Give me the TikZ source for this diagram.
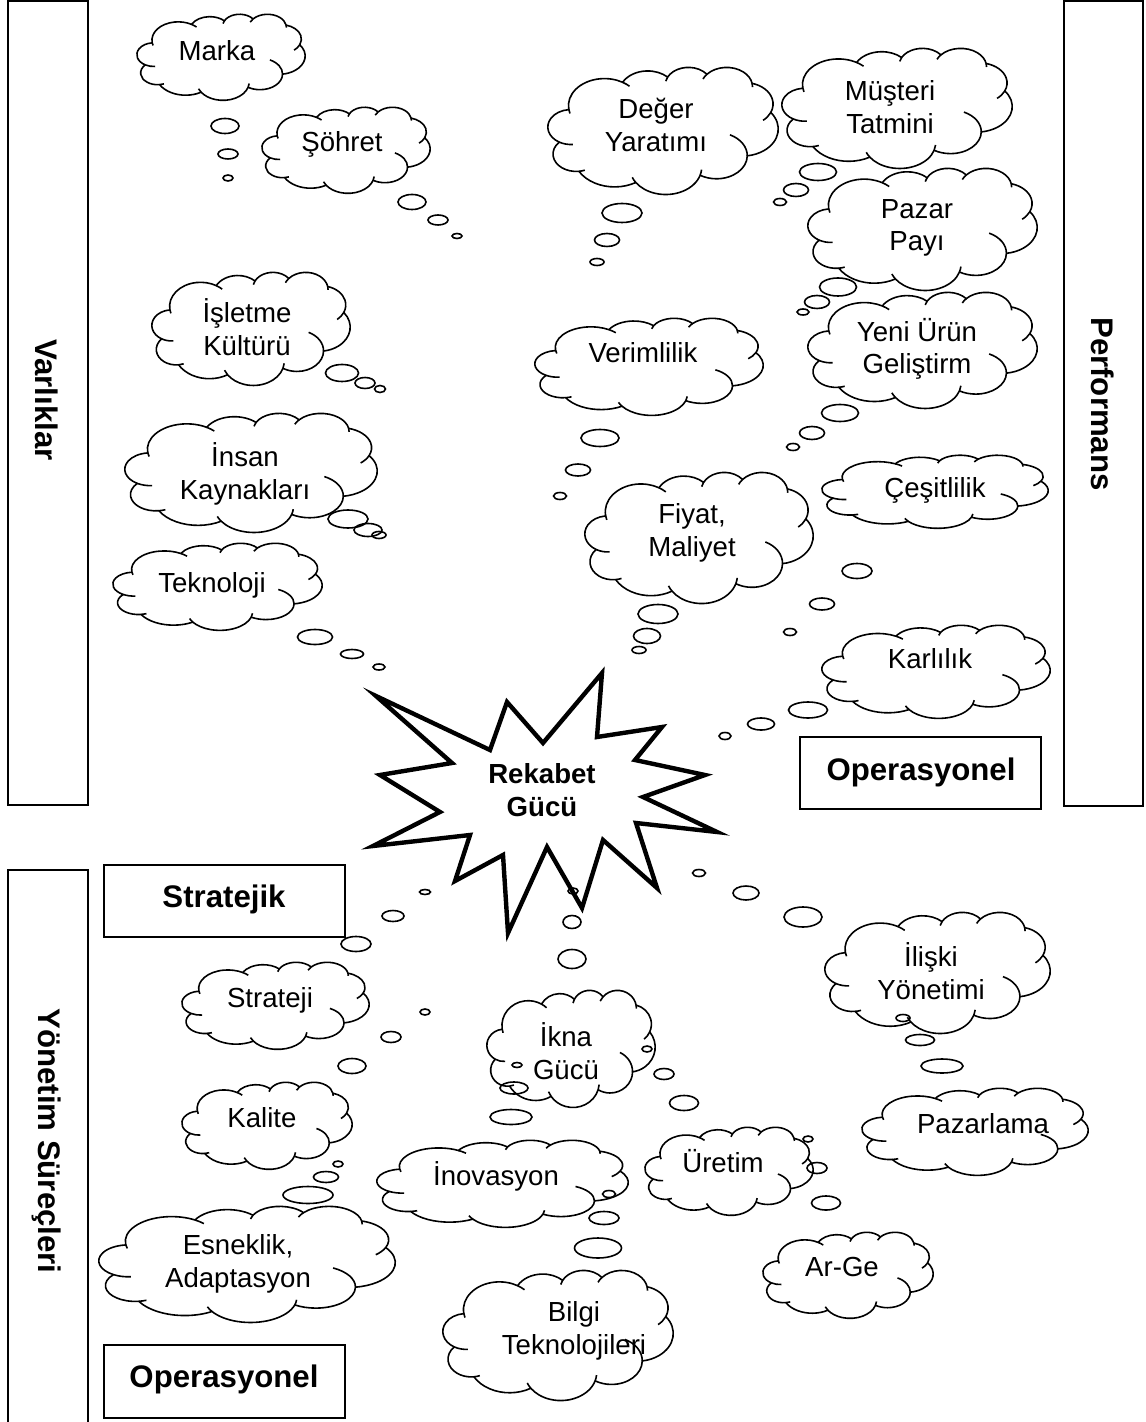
\documentclass[tikz,border=0pt]{standalone}
\usepackage{fontspec}
\setmainfont{Liberation Sans}

% one arc of a puff ellipse, started at its own point (centre, radii, angles)
\newcommand\cstub[6]{({#1+#3*cos(#5)},{#2+#4*sin(#5)}) arc[start angle=#5, end angle=#6, x radius=#3, y radius=#4]}

% thought cloud: top-left corner (#1,#2), width #3, height #4
\newcommand\wordcloud[4]{%
  \pgfmathsetlengthmacro\cldx{#3*0.0115741pt}%
  \pgfmathsetlengthmacro\cldy{-#4*0.0115741pt}%
  \begin{scope}[shift={(#1,#2)}, x=\cldx, y=\cldy]
    \draw[outline] (3.900,14.370)
      arc[start angle=172.25, end angle=300.36, x radius=6.753, y radius=9.190]
      arc[start angle=-152.03, end angle=-45.44, x radius=5.333, y radius=7.267]
      arc[start angle=-153.50, end angle=-37.35, x radius=4.365, y radius=5.945]
      arc[start angle=-139.72, end angle=-10.22, x radius=4.857, y radius=6.595]
      arc[start angle=-74.77, end angle=23.21, x radius=5.333, y radius=7.273]
      arc[start angle=-37.52, end angle=81.86, x radius=6.775, y radius=9.220]
      arc[start angle=0.46, end angle=121.98, x radius=5.785, y radius=7.867]
      arc[start angle=16.84, end angle=146.23, x radius=6.752, y radius=9.215]
      arc[start angle=58.98, end angle=150.19, x radius=7.720, y radius=10.543]
      arc[start angle=83.31, end angle=223.11, x radius=4.360, y radius=5.918]
      arc[start angle=120.35, end angle=264.11, x radius=4.345, y radius=5.945]
      -- cycle;
    \draw[outline]
      \cstub{10.591}{13.131}{6.753}{9.190}{163.19}{172.25}
      \cstub{10.591}{13.131}{6.753}{9.190}{300.36}{314.25}
      \cstub{26.363}{6.085}{4.365}{5.945}{-167.72}{-153.50}
      \cstub{33.538}{6.742}{4.857}{6.595}{-156.29}{-139.72}
      \cstub{33.538}{6.742}{4.857}{6.595}{-10.22}{0.825}
      \cstub{36.917}{12.590}{5.333}{7.273}{23.21}{49.63}
      \cstub{31.618}{30.134}{5.785}{7.867}{-64.03}{0.46}
      \cstub{22.092}{34.137}{6.752}{9.215}{4.735}{16.84}
      \cstub{22.092}{34.137}{6.752}{9.215}{146.23}{158.47}
      \cstub{5.296}{29.583}{4.360}{5.918}{68.24}{83.31}
      \cstub{4.309}{20.409}{4.345}{5.945}{85.54}{120.35};
  \end{scope}}

% a trail of three bubbles: centre x, centre y, width, height for each
\newcommand\bubbles[3]{\bub#1\bub#2\bub#3}
\def\bub(#1,#2,#3,#4){\draw[bubble] (#1,#2) ellipse[x radius=#3/2, y radius=#4/2];}

\begin{document}
\begin{tikzpicture}[x=0.5pt, y=-0.5pt,
  outline/.style={line width=0.8pt, line join=round},
  bubble/.style={line width=0.8pt},
  cloudtext/.style={font=\fontsize{13.8}{16.2}\selectfont, align=center, inner sep=0pt},
  boldtext/.style={font=\fontsize{15.6}{18}\selectfont\bfseries, inner sep=0pt},
  bursttext/.style={font=\fontsize{13.8}{16.8}\selectfont\bfseries, align=center, inner sep=0pt},
  framebox/.style={draw, line width=1pt, inner sep=0pt},
  burst/.style={line width=2.2pt, line join=miter, miter limit=20}]

\useasboundingbox (0,0) rectangle (1145,1422);

% ---- frames and their headings ----
\node[framebox, minimum width=40pt, minimum height=402pt] (varbox) at (48,403) {};
\node[boldtext, rotate=-90] (varlabel) at (47,400) {Varlıklar};
\node[framebox, minimum width=39.5pt, minimum height=402.5pt] (perfbox) at (1103.5,403.5) {};
\node[boldtext, rotate=-90] (perflabel) at (1103,404) {Performans};
\node[framebox, minimum width=40pt, minimum height=280pt] (yonbox) at (48,1150) {};
\node[boldtext, rotate=-90] (yonlabel) at (47,1141) {Yönetim Süreçleri};

\node[framebox, minimum width=120.5pt, minimum height=36pt] (opbox1) at (920.5,773) {};
\node[boldtext, anchor=base] (oplabel1) at (921,780) {Operasyonel};
\node[framebox, minimum width=120.5pt, minimum height=36pt] (stratbox) at (224.5,901) {};
\node[boldtext, anchor=base] (stratlabel) at (224,907) {Stratejik};
\node[framebox, minimum width=120.5pt, minimum height=36.5pt] (opbox2) at (224.5,1381.5) {};
\node[boldtext, anchor=base] (oplabel2) at (224,1387) {Operasyonel};

% ---- central burst ----
\draw[burst] (376,696) -- (490,750) -- (507,702) -- (543,743) -- (602,673)
  -- (597,737) -- (662,727) -- (635,760) -- (705,775) -- (643,797)
  -- (717,832) -- (636,823) -- (657,888) -- (603,840) -- (582,908)
  -- (547,847) -- (508,933) -- (503,855) -- (455,881) -- (470,835)
  -- (373,846) -- (440,812) -- (380,775) -- (452,763) -- cycle;
\node[bursttext] (rekabet) at (542,790) {Rekabet\\Gücü};

% ---- clouds ----
\wordcloud{137}{14}{168}{86}
\node[cloudtext, anchor=base] (marka) at (217,61) {Marka};
\wordcloud{262}{107}{168}{86}
\node[cloudtext, anchor=base] (sohret) at (342,152) {Şöhret};
\wordcloud{548}{67}{230}{127}
\node[cloudtext] (deger) at (656,125) {Değer\\Yaratımı};
\wordcloud{782}{48}{230}{120}
\node[cloudtext] (musteri) at (890,107) {Müşteri\\Tatmini};
\wordcloud{808}{168}{229}{122}
\node[cloudtext] (pazar) at (917,228) {Pazar\\Payı};
\wordcloud{808}{292}{229}{116}
\node[cloudtext] (yeniurun) at (917,349) {Yeni Ürün\\Geliştirm};
\wordcloud{535}{318}{228}{97}
\node[cloudtext, anchor=base] (verim) at (643,363) {Verimlilik};
\wordcloud{585}{472}{228}{131}
\node[cloudtext] (fiyat) at (692,533) {Fiyat,\\Maliyet};
\wordcloud{822}{455}{226}{73}
\node[cloudtext, anchor=base] (cesit) at (935,497) {Çeşitlilik};
\wordcloud{822}{625}{228}{93}
\node[cloudtext, anchor=base] (karli) at (930,668) {Karlılık};
\wordcloud{152}{272}{198}{113}
\node[cloudtext] (isletme) at (247,327) {İşletme\\Kültürü};
\wordcloud{125}{413}{252}{119}
\node[cloudtext] (insan) at (245,474) {İnsan\\Kaynakları};
\wordcloud{113}{543}{209}{87}
\node[cloudtext, anchor=base] (tekno) at (212,592) {Teknoloji};
\wordcloud{825}{912}{225}{121}
\node[cloudtext] (iliski) at (931,971) {İlişki\\Yönetimi};
\wordcloud{862}{1088}{226}{87}
\node[cloudtext, anchor=base] (pazarlama) at (983,1133) {Pazarlama};
\wordcloud{645}{1127}{168}{88}
\node[cloudtext, anchor=base] (uretim) at (723,1172) {Üretim};
\wordcloud{763}{1232}{170}{86}
\node[cloudtext, anchor=base] (arge) at (842,1276) {Ar-Ge};
\wordcloud{487}{990}{168}{117}
\node[cloudtext] (ikna) at (566,1051) {İkna\\Gücü};
\wordcloud{377}{1140}{251}{87}
\node[cloudtext, anchor=base] (inovasyon) at (496,1185) {İnovasyon};
\wordcloud{443}{1270}{230}{130}
\node[cloudtext] (bilgi) at (574,1331) {Bilgi\\Teknolojileri};
\wordcloud{182}{962}{187}{87}
\node[cloudtext, anchor=base] (strateji) at (270,1007) {Strateji};
\wordcloud{182}{1082}{170}{87}
\node[cloudtext, anchor=base] (kalite) at (262,1127) {Kalite};
\wordcloud{99}{1206}{296}{116}
\node[cloudtext] (esneklik) at (238,1264) {Esneklik,\\Adaptasyon};

% ---- bubble trails ----
\bubbles{(225,126,28,15)}{(228,154,20,10)}{(228,178,10,6)}
\bubbles{(412,202,28,15)}{(438,220,20,10)}{(457,236,10,5)}
\bubbles{(622,213,40,19)}{(607,240,25,13)}{(597,262,14,7)}
\bubbles{(818,172,37,17)}{(796,190,25,13)}{(780,202,13,7)}
\bubbles{(838,287,37,18)}{(817,302,25,13)}{(803,312,12,6)}
\bubbles{(840,413,37,17)}{(812,433,25,13)}{(793,447,13,7)}
\bubbles{(600,438,38,17)}{(578,470,25,12)}{(560,496,13,7)}
\bubbles{(658,614,40,19)}{(647,636,27,15)}{(639,650,14,7)}
\bubbles{(857,571,30,15)}{(822,604,25,12)}{(790,632,13,7)}
\bubbles{(808,710,39,16)}{(761,724,27,12)}{(725,736,12,7)}
\bubbles{(342,373,33,17)}{(365,383,20,11)}{(380,389,11,7)}
\bubbles{(348,519,40,18)}{(368,530,28,13)}{(379,535,14,7)}
\bubbles{(315,637,35,15)}{(352,654,23,9)}{(379,667,12,6)}
\bubbles{(356,944,30,15)}{(393,916,22,11)}{(425,892,11,5)}
\bubbles{(352,1066,28,15)}{(391,1037,20,11)}{(425,1012,10,6)}
\bubbles{(308,1195,50,17)}{(326,1177,25,11)}{(338,1164,10,6)}
\bubbles{(572,959,28,19)}{(572,922,18,13)}{(573,891,10,6)}
\bubbles{(803,917,38,20)}{(746,893,26,14)}{(699,873,13,7)}
\bubbles{(942,1066,42,14)}{(920,1040,29,11)}{(903,1018,14,7)}
\bubbles{(684,1103,29,15)}{(664,1074,20,11)}{(647,1049,10,6)}
\bubbles{(826,1203,29,14)}{(817,1168,20,11)}{(808,1139,10,6)}
\bubbles{(511,1117,42,15)}{(514,1088,28,12)}{(517,1065,10,5)}
\bubbles{(598,1248,47,20)}{(604,1218,30,13)}{(609,1194,13,7)}

\end{tikzpicture}
\end{document}
